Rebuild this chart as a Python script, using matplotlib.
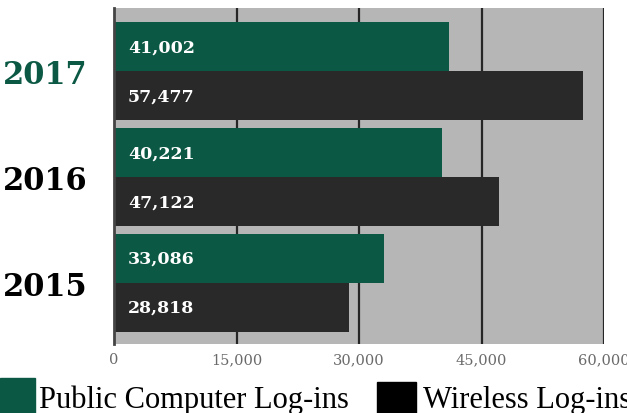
import matplotlib.pyplot as plt
from matplotlib.patches import Rectangle

years = ['2015', '2016', '2017']
public_logins = [33086, 40221, 41002]
wireless_logins = [28818, 47122, 57477]
xticks = [0, 15000, 30000, 45000, 60000]

green = '#0b5944'
dark = '#2a2929'
grey_bg = '#b6b6b6'

fig = plt.figure(figsize=(6.27, 4.14), dpi=100)
ax = fig.add_axes([114 / 627, 1 - 345 / 414, 490 / 627, 336 / 414])
ax.set_facecolor(grey_bg)

pos = list(range(len(years)))
h = 0.464
off = 0.232
ax.barh([p + off for p in pos], public_logins, height=h, color=green, zorder=3)
ax.barh([p - off for p in pos], wireless_logins, height=h, color=dark, zorder=3)

for p, v in zip(pos, public_logins):
    ax.text(1700, p + off, f'{v:,}', color='white', fontsize=12.5, fontweight='bold',
            family='DejaVu Serif', va='center', ha='left', zorder=4)
for p, v in zip(pos, wireless_logins):
    ax.text(1700, p - off, f'{v:,}', color='white', fontsize=12.5, fontweight='bold',
            family='DejaVu Serif', va='center', ha='left', zorder=4)

ax.set_xlim(0, 60000)
ax.set_ylim(-0.578, 2.60)
ax.set_xticks(xticks)
ax.set_xticklabels([f'{t:,}' for t in xticks], family='DejaVu Serif', fontsize=10.5, color='#6a6a6a')
for t in xticks[1:]:
    ax.axvline(t, color='#262626', lw=1.6, zorder=2)
ax.tick_params(axis='x', length=0, pad=6)
ax.set_yticks(pos)
ax.set_yticklabels(years, family='DejaVu Serif', fontweight='bold', fontsize=22)
ax.tick_params(axis='y', length=0, pad=19)
ax.get_yticklabels()[2].set_color(green)
for s in ['top', 'right', 'bottom']:
    ax.spines[s].set_visible(False)
ax.spines['left'].set_color('#444444')
ax.spines['left'].set_linewidth(2)
ax.spines['left'].set_zorder(5)

# legend drawn by hand at the bottom
fig.patches.append(Rectangle((0, 0), 35 / 627, 35 / 414, transform=fig.transFigure, color=green))
fig.text(39 / 627, 6 / 414, 'Public Computer Log-ins', family='Liberation Serif', fontsize=22,
         va='baseline', ha='left')
fig.patches.append(Rectangle((377 / 627, 0), 39 / 627, 31 / 414, transform=fig.transFigure, color='black'))
fig.text(423 / 627, 6 / 414, 'Wireless Log-ins', family='Liberation Serif', fontsize=22,
         va='baseline', ha='left')

fig.savefig('out.png', dpi=100)
